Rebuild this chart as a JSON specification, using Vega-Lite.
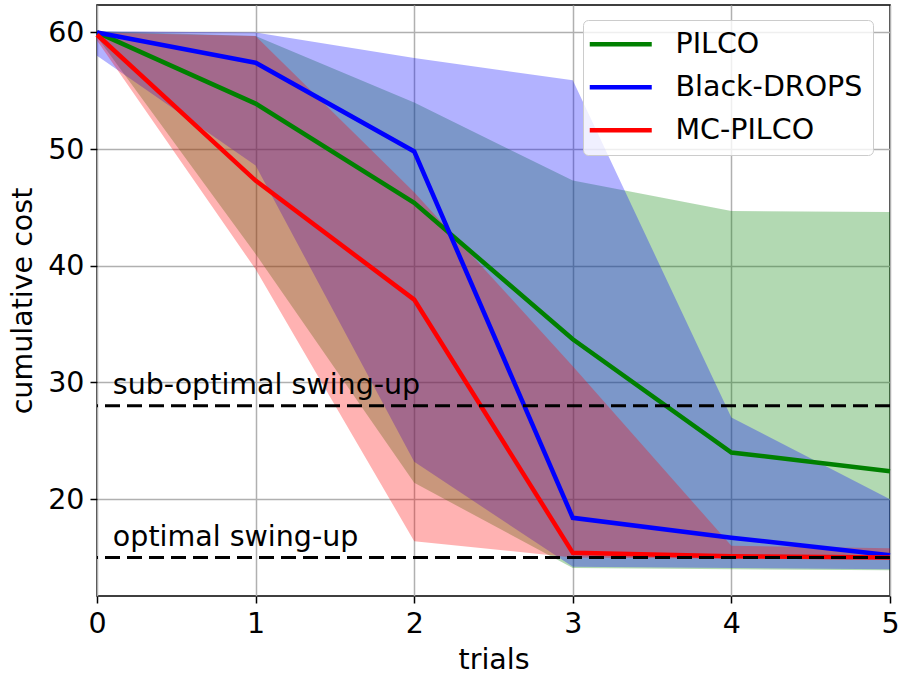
{
  "$schema": "https://vega.github.io/schema/vega-lite/v6.json",
  "width": 793,
  "height": 591,
  "autosize": {"type": "none"},
  "padding": {"left": 97, "top": 5, "right": 8, "bottom": 79},
  "config": {
    "font": "DejaVu Sans",
    "view": {"stroke": "black", "strokeWidth": 1.5},
    "axis": {
      "domain": false,
      "grid": true,
      "gridColor": "#b0b0b0",
      "gridWidth": 1.5,
      "tickColor": "black",
      "tickWidth": 1.5,
      "tickSize": 7,
      "labelPadding": 6,
      "labelFlush": false,
      "labelFont": "DejaVu Sans",
      "labelFontSize": 28.5,
      "labelColor": "black",
      "titleFont": "DejaVu Sans",
      "titleFontSize": 28.5,
      "titleFontWeight": "normal",
      "titleColor": "black"
    }
  },
  "datasets": {
    "runs": [
      {"trial": 0, "method": "PILCO", "mean": 60.0, "lo": 59.6, "hi": 60.1},
      {"trial": 1, "method": "PILCO", "mean": 53.9, "lo": 41.0, "hi": 59.7},
      {"trial": 2, "method": "PILCO", "mean": 45.4, "lo": 21.4, "hi": 54.0},
      {"trial": 3, "method": "PILCO", "mean": 33.7, "lo": 14.1, "hi": 47.3},
      {"trial": 4, "method": "PILCO", "mean": 24.0, "lo": 14.0, "hi": 44.7},
      {"trial": 5, "method": "PILCO", "mean": 22.4, "lo": 13.9, "hi": 44.6},
      {"trial": 0, "method": "Black-DROPS", "mean": 60.0, "lo": 58.0, "hi": 60.1},
      {"trial": 1, "method": "Black-DROPS", "mean": 57.4, "lo": 48.6, "hi": 60.0},
      {"trial": 2, "method": "Black-DROPS", "mean": 49.8, "lo": 23.2, "hi": 57.8},
      {"trial": 3, "method": "Black-DROPS", "mean": 18.4, "lo": 14.2, "hi": 55.9},
      {"trial": 4, "method": "Black-DROPS", "mean": 16.7, "lo": 14.1, "hi": 27.0},
      {"trial": 5, "method": "Black-DROPS", "mean": 15.2, "lo": 14.0, "hi": 20.0},
      {"trial": 0, "method": "MC-PILCO", "mean": 59.8, "lo": 59.3, "hi": 60.0},
      {"trial": 1, "method": "MC-PILCO", "mean": 47.3, "lo": 39.7, "hi": 59.7},
      {"trial": 2, "method": "MC-PILCO", "mean": 37.1, "lo": 16.4, "hi": 46.3},
      {"trial": 3, "method": "MC-PILCO", "mean": 15.4, "lo": 15.0, "hi": 31.4},
      {"trial": 4, "method": "MC-PILCO", "mean": 15.1, "lo": 14.9, "hi": 16.0},
      {"trial": 5, "method": "MC-PILCO", "mean": 15.0, "lo": 14.9, "hi": 15.8}
    ],
    "refs": [
      {"cost": 28, "label": "sub-optimal swing-up", "ty": 29, "tx": 0.1},
      {"cost": 15, "label": "optimal swing-up", "ty": 16, "tx": 0.1}
    ]
  },
  "layer": [
    {
      "data": {"name": "runs"},
      "transform": [{"filter": {"field": "method", "equal": "PILCO"}}],
      "mark": {"type": "area", "opacity": 0.3, "color": "#008000"},
      "encoding": {
        "x": {
          "field": "trial",
          "type": "quantitative",
          "scale": {"domain": [0, 5], "nice": false, "zero": false},
          "axis": {"values": [0, 1, 2, 3, 4, 5], "format": "d", "title": "trials", "titlePadding": 8}
        },
        "y": {"field": "lo", "type": "quantitative", "scale": {"domain": [11.7, 62.35], "nice": false, "zero": false},
              "axis": {"values": [20, 30, 40, 50, 60], "title": "cumulative cost", "titlePadding": 10}},
        "y2": {"field": "hi"}
      }
    },
    {
      "data": {"name": "runs"},
      "transform": [{"filter": {"field": "method", "equal": "Black-DROPS"}}],
      "mark": {"type": "area", "opacity": 0.3, "color": "#0000ff"},
      "encoding": {
        "x": {"field": "trial", "type": "quantitative"},
        "y": {"field": "lo", "type": "quantitative"},
        "y2": {"field": "hi"}
      }
    },
    {
      "data": {"name": "runs"},
      "transform": [{"filter": {"field": "method", "equal": "MC-PILCO"}}],
      "mark": {"type": "area", "opacity": 0.3, "color": "#ff0000"},
      "encoding": {
        "x": {"field": "trial", "type": "quantitative"},
        "y": {"field": "lo", "type": "quantitative"},
        "y2": {"field": "hi"}
      }
    },
    {
      "data": {"name": "runs"},
      "mark": {"type": "line", "strokeWidth": 4.5},
      "encoding": {
        "x": {"field": "trial", "type": "quantitative"},
        "y": {"field": "mean", "type": "quantitative"},
        "color": {
          "field": "method",
          "type": "nominal",
          "sort": ["PILCO", "Black-DROPS", "MC-PILCO"],
          "scale": {"domain": ["PILCO", "Black-DROPS", "MC-PILCO"], "range": ["#008000", "#0000ff", "#ff0000"]},
          "legend": {
            "orient": "none",
            "legendX": 486,
            "legendY": 15,
            "title": null,
            "fillColor": "rgba(255,255,255,0.8)",
            "strokeColor": "#cccccc",
            "cornerRadius": 5,
            "padding": 10,
            "labelFont": "DejaVu Sans",
            "labelFontSize": 28.5,
            "labelColor": "black",
            "labelLimit": 0,
            "symbolType": "M-1.75,0L4.45,0",
            "symbolSize": 400,
            "symbolStrokeWidth": 4.5,
            "labelOffset": 54,
            "rowPadding": 14
          }
        },
        "order": {"field": "trial", "type": "quantitative"}
      }
    },
    {
      "data": {"name": "refs"},
      "mark": {"type": "rule", "color": "black", "strokeWidth": 3, "strokeDash": [15, 7]},
      "encoding": {
        "y": {"field": "cost", "type": "quantitative"}
      }
    },
    {
      "data": {"name": "refs"},
      "mark": {"type": "text", "align": "left", "baseline": "alphabetic", "fontSize": 28.5, "font": "DejaVu Sans", "color": "black"},
      "encoding": {
        "x": {"field": "tx", "type": "quantitative"},
        "y": {"field": "ty", "type": "quantitative"},
        "text": {"field": "label"}
      }
    }
  ]
}
